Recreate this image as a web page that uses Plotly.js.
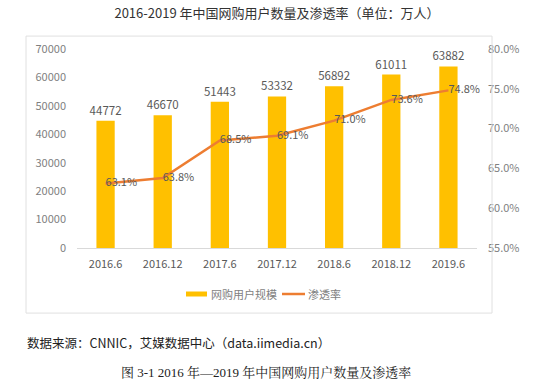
<!DOCTYPE html>
<html><head><meta charset="utf-8">
<script src="https://cdn.plot.ly/plotly-3.0.1.min.js"></script>
<style>body{margin:0;background:#fff}#c{width:560px;height:382px}</style>
</head><body><div id="c"></div>
<script>
const categories = ['2016.6','2016.12','2017.6','2017.12','2018.6','2018.12','2019.6'];
const users = [44772, 46670, 51443, 53332, 56892, 61011, 63882];
const rate = [63.1, 63.8, 68.5, 69.1, 71.0, 73.6, 74.8];
const leftTicks = [0,10000,20000,30000,40000,50000,60000,70000];
const rightTicks = [55,60,65,70,75,80];
const seriesNames = ['网购用户规模','渗透率'];

const F = '"Noto Sans CJK SC", "Noto Sans", sans-serif';
const bars = {
  type:'bar', x:categories, y:users, name:seriesNames[0],
  marker:{color:'#FFC000'}, width:0.32,
  text:users.map(String), textposition:'outside', cliponaxis:false, constraintext:'none',
  textfont:{family:F,size:11.5,color:'#595959'}, hoverinfo:'skip', showlegend:false
};
const line = {
  type:'scatter', mode:'lines+text', x:categories, y:rate, yaxis:'y2', name:seriesNames[1],
  line:{color:'#ED7D31', width:2.5},
  text:rate.map(v=>v.toFixed(1)+'%'), textposition:'middle right', cliponaxis:false,
  textfont:{family:F,size:11,color:'#595959'}, hoverinfo:'skip', showlegend:false
};
const px = x => (x-77)/400, py = y => (248-y)/199;
const layout = {
  width:560, height:382, paper_bgcolor:'#fff', plot_bgcolor:'rgba(0,0,0,0)',
  margin:{l:77,r:83,t:49,b:134},
  font:{family:F, color:'#7f7f7f', size:11},
  title:{text:'2016-2019 年中国网购用户数量及渗透率（单位：万人）', font:{family:F,size:13,color:'#333'}, x:0.5, xref:'paper', xanchor:'center', y:0.965, yanchor:'middle'},
  xaxis:{type:'category', showline:true, linecolor:'#d9d9d9', linewidth:1, showgrid:false, ticks:'', tickfont:{size:11,color:'#595959'}, ticklabelstandoff:6},
  yaxis:{range:[0,70000], tickvals:leftTicks, ticktext:leftTicks.map(String), showgrid:false, zeroline:false, showline:false, ticks:'', tickfont:{size:11,color:'#7f7f7f'}, ticklabelstandoff:10},
  yaxis2:{overlaying:'y', side:'right', range:[55,80], tickvals:rightTicks, ticktext:rightTicks.map(v=>v.toFixed(1)+'%'), showgrid:false, zeroline:false, showline:false, ticks:'', tickfont:{size:11,color:'#7f7f7f'}, ticklabelstandoff:10},
  showlegend:false,
  shapes:[
    {type:'rect', xref:'paper', yref:'paper', x0:-0.1275, x1:1.0375, y0:-0.327, y1:1.065, line:{color:'#e0e0e0', width:1}},
    {type:'rect', xref:'paper', yref:'paper', x0:px(186), x1:px(207), y0:py(291.5), y1:py(296.5), fillcolor:'#FFC000', line:{width:0}},
    {type:'line', xref:'paper', yref:'paper', x0:px(282), x1:px(305), y0:py(294), y1:py(294), line:{color:'#ED7D31', width:2.5}}
  ],
  annotations:[
    {xref:'paper', yref:'paper', x:px(209), y:py(294), xanchor:'left', yanchor:'middle', showarrow:false,
     text:seriesNames[0], font:{family:F,size:11,color:'#7f7f7f'}},
    {xref:'paper', yref:'paper', x:px(306), y:py(294), xanchor:'left', yanchor:'middle', showarrow:false,
     text:seriesNames[1], font:{family:F,size:11,color:'#7f7f7f'}},
    {xref:'paper', yref:'paper', x:px(25), y:py(342), xanchor:'left', yanchor:'middle', showarrow:false,
     text:'数据来源：CNNIC，艾媒数据中心（data.iimedia.cn）', font:{family:F,size:12.5,color:'#222'}},
    {xref:'paper', yref:'paper', x:px(266), y:py(372), xanchor:'center', yanchor:'middle', showarrow:false,
     text:'图 3-1 2016 年—2019 年中国网购用户数量及渗透率', font:{family:'"Liberation Serif", "Noto Serif CJK SC", serif',size:13,color:'#222'}}
  ]
};
Plotly.newPlot('c',[bars,line],layout,{staticPlot:true});
</script></body></html>
